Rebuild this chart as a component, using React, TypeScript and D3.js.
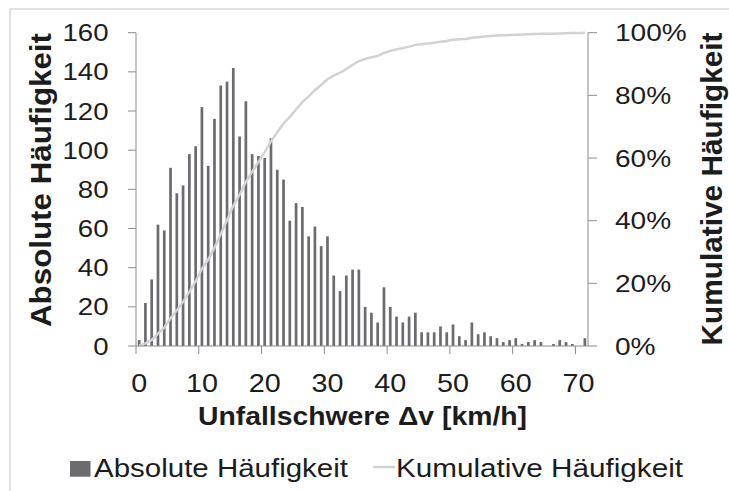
import React from "react";
import * as d3 from "d3";

// km/h classes (one bar per class)
const speeds: number[] = [
  0, 1, 2, 3, 4, 5, 6, 7, 8, 9, 10, 11, 12, 13, 14, 15, 16, 17, 18, 19, 20, 21, 22, 23,
  24, 25, 26, 27, 28, 29, 30, 31, 32, 33, 34, 35, 36, 37, 38, 39, 40, 41, 42, 43, 44, 45, 46, 47,
  48, 49, 50, 51, 52, 53, 54, 55, 56, 57, 58, 59, 60, 61, 62, 63, 64, 65, 66, 67, 68, 69, 70, 71,
];

// absolute counts per class
const counts: number[] = [
  3, 22, 34, 62, 59, 91, 78, 82, 98, 102,
  122, 92, 116, 133, 135, 142, 107, 125, 98, 97,
  96, 106, 90, 85, 64, 73, 71, 56, 61, 51,
  56, 36, 28, 36, 39, 39, 20, 17, 12, 30,
  20, 15, 12, 15, 17, 7, 7, 7, 10, 7,
  11, 5, 3, 12, 6, 7, 5, 4, 2, 3,
  4, 1, 2, 3, 2, 0, 1, 3, 2, 1,
  0, 4,
];

const xTickValues: number[] = [0, 10, 20, 30, 40, 50, 60, 70];
const leftTicks: number[] = [0, 20, 40, 60, 80, 100, 120, 140, 160];
const rightTicks: number[] = [0, 0.2, 0.4, 0.6, 0.8, 1];

const W = 729;
const H = 491;
const plot = { left: 136, right: 588, top: 32.7, bottom: 346 };

const FONT = "'Liberation Sans', Arial, Helvetica, sans-serif";
const BAR = "#6b6b70";
const LINE = "#d2d2d2";
const AXIS = "#8c8c8c";
const TEXT = "#1c1c1c";

export default function App() {
  const x = d3
    .scaleBand<string>()
    .domain(speeds.map(String))
    .range([plot.left, plot.right])
    .paddingInner(0.57)
    .paddingOuter(0.285);
  const bw = x.bandwidth();
  const gap = (x.step() - bw) / 2;

  const y = d3.scaleLinear().domain([0, 160]).range([plot.bottom, plot.top]);
  const yR = d3.scaleLinear().domain([0, 1]).range([plot.bottom, plot.top]);

  // cumulative share of all cases
  const total = d3.sum(counts);
  const cumulative = Array.from(d3.cumsum(counts), v => v / total);

  const line = d3
    .line<number>()
    .x((_, i) => (x(String(speeds[i])) as number) + bw / 2)
    .y(d => yR(d));

  return (
    <svg
      width={W}
      height={H}
      style={{ position: "absolute", left: 0, top: 0, display: "block", background: "#fff" }}
      fontFamily={FONT}
    >
      {/* chart area border (cropped) */}
      <line x1={10} y1={9} x2={W} y2={9} stroke="#c4c4c4" />
      <line x1={10} y1={9} x2={10} y2={H} stroke="#c4c4c4" />

      {/* bars */}
      {counts.map((c, i) => (
        <rect
          key={i}
          x={x(String(speeds[i]))}
          y={y(c)}
          width={bw}
          height={plot.bottom - y(c)}
          fill={BAR}
        />
      ))}

      {/* cumulative line */}
      <path d={line(cumulative) || ""} fill="none" stroke={LINE} strokeWidth={2.5} />

      {/* left axis */}
      <line x1={plot.left} y1={plot.top} x2={plot.left} y2={plot.bottom} stroke={AXIS} />
      {leftTicks.map(t => (
        <g key={t}>
          <line x1={plot.left - 8} x2={plot.left} y1={y(t)} y2={y(t)} stroke={AXIS} />
          <text
            transform={`translate(108.5,${y(t) + 8.6}) scale(1.15,1)`}
            textAnchor="end"
            fontSize={24}
            fill={TEXT}
          >
            {t}
          </text>
        </g>
      ))}

      {/* right axis */}
      <line x1={plot.right} y1={plot.top} x2={plot.right} y2={plot.bottom} stroke={AXIS} />
      {rightTicks.map(t => (
        <g key={t}>
          <line x1={plot.right} x2={plot.right + 9} y1={yR(t)} y2={yR(t)} stroke={AXIS} />
          <text
            transform={`translate(615,${yR(t) + 8.6}) scale(1.17,1)`}
            fontSize={24}
            fill={TEXT}
          >
            {`${Math.round(t * 100)}%`}
          </text>
        </g>
      ))}

      {/* bottom axis */}
      <line x1={plot.left} y1={plot.bottom} x2={plot.right} y2={plot.bottom} stroke={AXIS} />
      {xTickValues.map(v => {
        const bx = x(String(v)) as number;
        return (
          <g key={v}>
            <line x1={bx - gap} x2={bx - gap} y1={plot.bottom} y2={plot.bottom + 8} stroke={AXIS} />
            <text
              transform={`translate(${bx + bw / 2},392) scale(1.15,1)`}
              textAnchor="middle"
              fontSize={25}
              fill={TEXT}
            >
              {v}
            </text>
          </g>
        );
      })}

      {/* axis titles */}
      <text
        x={362.5}
        y={425}
        textAnchor="middle"
        fontSize={25.5}
        fontWeight="bold"
        fill={TEXT}
        textLength={329}
        lengthAdjust="spacingAndGlyphs"
      >
        Unfallschwere Δv [km/h]
      </text>
      <text
        transform="translate(51,180) rotate(-90)"
        textAnchor="middle"
        fontSize={29}
        fontWeight="bold"
        fill={TEXT}
        textLength={294}
        lengthAdjust="spacingAndGlyphs"
      >
        Absolute Häufigkeit
      </text>
      <text
        transform="translate(722,189) rotate(-90)"
        textAnchor="middle"
        fontSize={30}
        fontWeight="bold"
        fill={TEXT}
        textLength={313}
        lengthAdjust="spacingAndGlyphs"
      >
        Kumulative Häufigkeit
      </text>

      {/* legend */}
      <rect x={70} y={461} width={20.5} height={15.7} fill={BAR} />
      <text
        x={94}
        y={477}
        fontSize={26.5}
        fill={TEXT}
        textLength={254}
        lengthAdjust="spacingAndGlyphs"
      >
        Absolute Häufigkeit
      </text>
      <line x1={373} x2={395} y1={467} y2={467} stroke={LINE} strokeWidth={2.5} />
      <text
        x={396}
        y={477}
        fontSize={26.5}
        fill={TEXT}
        textLength={287}
        lengthAdjust="spacingAndGlyphs"
      >
        Kumulative Häufigkeit
      </text>
    </svg>
  );
}
